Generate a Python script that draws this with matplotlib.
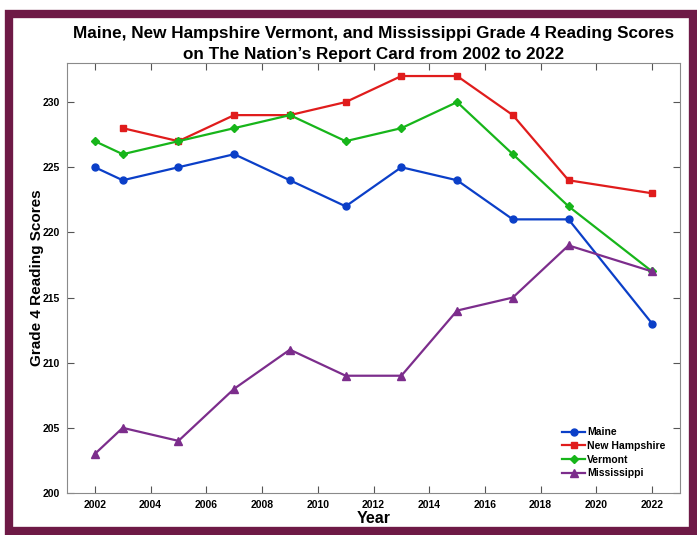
import matplotlib
matplotlib.use('Agg')
import matplotlib.pyplot as plt
from matplotlib import patches

plt.rcParams['font.family'] = ['Liberation Sans', 'DejaVu Sans']

years = [2002, 2003, 2005, 2007, 2009, 2011, 2013, 2015, 2017, 2019, 2022]
nh_years = years[1:]
maine = [225, 224, 225, 226, 224, 222, 225, 224, 221, 221, 213]
new_hampshire = [228, 227, 229, 229, 230, 232, 232, 229, 224, 223]
vermont = [227, 226, 227, 228, 229, 227, 228, 230, 226, 222, 217]
mississippi = [203, 205, 204, 208, 211, 209, 209, 214, 215, 219, 217]

fig = plt.figure(figsize=(6.97, 5.35), dpi=100)
ax = fig.add_axes([67/697, 1 - 493/535, (680-67)/697, (493-63)/535])

# maroon frame round the figure
frame = patches.Rectangle((9/697, 4/535), 684/697, 517/535, transform=fig.transFigure,
                          fill=False, edgecolor='#6e1a46', linewidth=6, zorder=0)
fig.patches.append(frame)

ax.plot(years, maine, '-o', color='#0b3fc8', ms=5, lw=1.6, label='Maine')
ax.plot(nh_years, new_hampshire, '-s', color='#e01c1c', ms=4.5, lw=1.6, label='New Hampshire')
ax.plot(years, vermont, '-D', color='#17b51a', ms=4.5, lw=1.6, label='Vermont')
ax.plot(years, mississippi, '-^', color='#7c2d8c', ms=5.5, lw=1.6, label='Mississippi')

ax.set_xlim(2001, 2023)
ax.set_ylim(200, 233)
ax.set_xticks(range(2002, 2023, 2))
ax.set_yticks(range(200, 231, 5))
ax.tick_params(direction='in', top=True, right=True, length=5, color='#555555',
               labelsize=7.5, pad=5)
for lbl in ax.get_xticklabels() + ax.get_yticklabels():
    lbl.set_fontweight('bold')
for s in ax.spines.values():
    s.set_color('#8a8a8a')

ax.set_xlabel('Year', fontsize=11.5, fontweight='bold', labelpad=1)
ax.set_ylabel('Grade 4 Reading Scores', fontsize=11, fontweight='bold', labelpad=-1)
ax.set_title('Maine, New Hampshire Vermont, and Mississippi Grade 4 Reading Scores\n'
             'on The Nation\u2019s Report Card from 2002 to 2022',
             fontsize=12.3, fontweight='bold', pad=3, linespacing=1.5)

leg = ax.legend(loc='lower right', frameon=False, fontsize=7.5, handlelength=2.2,
                labelspacing=0.35, borderaxespad=1.0, handletextpad=0.2)
for t in leg.get_texts():
    t.set_fontweight('bold')

fig.savefig('out.png', dpi=100)
